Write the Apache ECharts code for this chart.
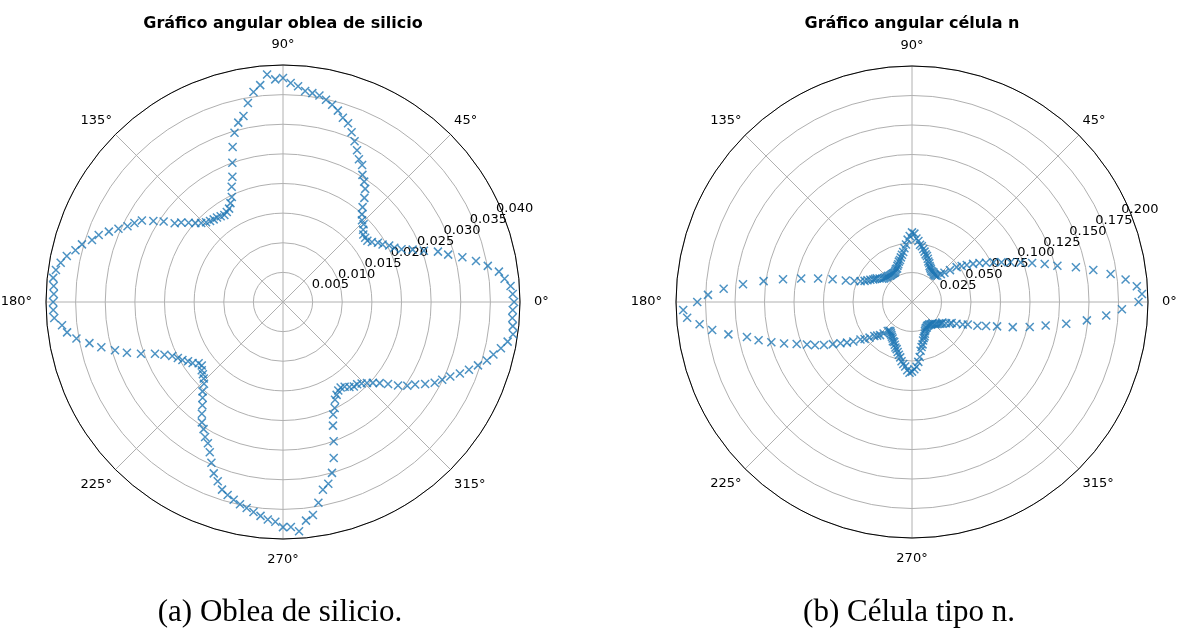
<!DOCTYPE html>
<html>
<head>
<meta charset="utf-8">
<script src="https://cdn.jsdelivr.net/npm/echarts@6/dist/echarts.min.js"></script>
<style>
  html, body { margin: 0; padding: 0; background: #fff; }
  #main { width: 1180px; height: 630px; }
</style>
</head>
<body>
<div id="main"></div>
<script>
// measurement angles (degrees), same for both samples
const angles = [0, 2, 4, 6, 8, 10, 12, 14, 16, 18, 20, 22, 24, 26, 28, 30, 32, 34, 36, 38,
  40, 42, 44, 46, 48, 50, 52, 54, 56, 58, 60, 62, 64, 66, 68, 70, 72, 74, 76, 78,
  80, 82, 84, 86, 88, 90, 92, 94, 96, 98, 100, 102, 104, 106, 108, 110, 112, 114, 116, 118,
  120, 122, 124, 126, 128, 130, 132, 134, 136, 138, 140, 142, 144, 146, 148, 150, 152, 154, 156, 158,
  160, 162, 164, 166, 168, 170, 172, 174, 176, 178, 180, 182, 184, 186, 188, 190, 192, 194, 196, 198,
  200, 202, 204, 206, 208, 210, 212, 214, 216, 218, 220, 222, 224, 226, 228, 230, 232, 234, 236, 238,
  240, 242, 244, 246, 248, 250, 252, 254, 256, 258, 260, 262, 264, 266, 268, 270, 272, 274, 276, 278,
  280, 282, 284, 286, 288, 290, 292, 294, 296, 298, 300, 302, 304, 306, 308, 310, 312, 314, 316, 318,
  320, 322, 324, 326, 328, 330, 332, 334, 336, 338, 340, 342, 344, 346, 348, 350, 352, 354, 356, 358];

// (a) oblea de silicio
const obleaValues = [0.0390, 0.0388, 0.0385, 0.0376, 0.0368, 0.0351, 0.0333, 0.0312, 0.0290, 0.0275,
  0.0253, 0.0236, 0.0219, 0.0209, 0.0203, 0.0194, 0.0189, 0.0181, 0.0176, 0.0176,
  0.0177, 0.0182, 0.0189, 0.0192, 0.0199, 0.0209, 0.0223, 0.0236, 0.0245, 0.0253,
  0.0267, 0.0273, 0.0285, 0.0297, 0.0309, 0.0321, 0.0327, 0.0336, 0.0343, 0.0349,
  0.0354, 0.0356, 0.0358, 0.0365, 0.0370, 0.0378, 0.0376, 0.0385, 0.0368, 0.0358,
  0.0341, 0.0321, 0.0312, 0.0297, 0.0275, 0.0250, 0.0228, 0.0213, 0.0197, 0.0189,
  0.0182, 0.0179, 0.0177, 0.0179, 0.0181, 0.0182, 0.0184, 0.0187, 0.0192, 0.0199,
  0.0208, 0.0218, 0.0226, 0.0243, 0.0258, 0.0275, 0.0284, 0.0292, 0.0304, 0.0317,
  0.0331, 0.0339, 0.0353, 0.0361, 0.0373, 0.0381, 0.0387, 0.0390, 0.0388, 0.0387,
  0.0388, 0.0388, 0.0387, 0.0375, 0.0368, 0.0354, 0.0334, 0.0316, 0.0295, 0.0277,
  0.0255, 0.0233, 0.0219, 0.0208, 0.0201, 0.0196, 0.0189, 0.0184, 0.0176, 0.0174,
  0.0179, 0.0182, 0.0186, 0.0192, 0.0203, 0.0211, 0.0221, 0.0233, 0.0245, 0.0253,
  0.0263, 0.0270, 0.0282, 0.0297, 0.0312, 0.0322, 0.0333, 0.0339, 0.0344, 0.0349,
  0.0353, 0.0358, 0.0363, 0.0368, 0.0371, 0.0380, 0.0380, 0.0388, 0.0371, 0.0363,
  0.0344, 0.0324, 0.0316, 0.0300, 0.0277, 0.0250, 0.0225, 0.0208, 0.0199, 0.0187,
  0.0181, 0.0176, 0.0174, 0.0177, 0.0182, 0.0186, 0.0187, 0.0191, 0.0197, 0.0204,
  0.0213, 0.0225, 0.0240, 0.0253, 0.0263, 0.0277, 0.0290, 0.0299, 0.0309, 0.0322,
  0.0334, 0.0346, 0.0358, 0.0366, 0.0376, 0.0385, 0.0392, 0.0390, 0.0388, 0.0388];

// (b) célula tipo n
const celulaValues = [0.192, 0.195, 0.191, 0.182, 0.170, 0.156, 0.142, 0.127, 0.117, 0.107,
  0.098, 0.090, 0.083, 0.077, 0.071, 0.066, 0.061, 0.056, 0.052, 0.048,
  0.042, 0.037, 0.034, 0.031, 0.030, 0.030, 0.030, 0.031, 0.031, 0.031,
  0.032, 0.033, 0.034, 0.036, 0.037, 0.039, 0.041, 0.042, 0.044, 0.046,
  0.048, 0.049, 0.052, 0.054, 0.058, 0.059, 0.056, 0.053, 0.049, 0.046,
  0.043, 0.041, 0.039, 0.037, 0.036, 0.034, 0.033, 0.031, 0.031, 0.030,
  0.029, 0.029, 0.029, 0.029, 0.029, 0.029, 0.030, 0.030, 0.030, 0.031,
  0.031, 0.032, 0.034, 0.036, 0.037, 0.038, 0.040, 0.042, 0.044, 0.047,
  0.052, 0.059, 0.070, 0.082, 0.096, 0.111, 0.127, 0.144, 0.160, 0.173,
  0.182, 0.194, 0.191, 0.181, 0.171, 0.158, 0.143, 0.134, 0.124, 0.114,
  0.104, 0.096, 0.090, 0.083, 0.076, 0.070, 0.065, 0.060, 0.054, 0.051,
  0.047, 0.043, 0.041, 0.039, 0.036, 0.032, 0.031, 0.031, 0.032, 0.033,
  0.034, 0.035, 0.037, 0.037, 0.039, 0.041, 0.042, 0.044, 0.046, 0.048,
  0.051, 0.053, 0.055, 0.058, 0.060, 0.059, 0.057, 0.055, 0.051, 0.047,
  0.042, 0.039, 0.037, 0.034, 0.032, 0.031, 0.029, 0.027, 0.026, 0.025,
  0.025, 0.024, 0.024, 0.024, 0.024, 0.025, 0.025, 0.025, 0.027, 0.028,
  0.029, 0.030, 0.031, 0.031, 0.034, 0.037, 0.038, 0.042, 0.047, 0.051,
  0.059, 0.066, 0.075, 0.088, 0.102, 0.115, 0.132, 0.149, 0.165, 0.178];

const obleaMax = 0.04, obleaStep = 0.005;
const celulaMax = 0.2, celulaStep = 0.025;

const blue = '#1f77b4';
const xMark = 'path://M0,0L10,10M0,10L10,0';
const sans = 'DejaVu Sans';

const chart = echarts.init(document.getElementById('main'));

// angle tick labels: padding nudges each one so all sit ~21px outside the circle
const lbl = { fontFamily: sans, fontSize: 13, color: '#000' };
function angleText(v) {
  if (v === 360) return '';
  if (v === 0) return '{e|0°}';
  if (v === 90) return '{n|90°}';
  if (v === 180) return '{w|180°}';
  if (v === 270) return '{s|270°}';
  if (v === 45 || v === 135) return '{up|' + v + '°}';
  return '{dn|' + v + '°}';
}

// polar with the grid, the angle labels and the data
function gridAngle() {
  return {
    type: 'value', min: 0, max: 360, interval: 45, startAngle: 0, clockwise: false,
    axisLine: { lineStyle: { color: '#000', width: 1 } },
    axisTick: { show: false },
    axisLabel: Object.assign({
      margin: 5, formatter: angleText,
      rich: {
        e: Object.assign({ padding: [0, 0, 0, 9] }, lbl),
        w: Object.assign({ padding: [0, 9, 0, 0] }, lbl),
        n: Object.assign({ padding: [0, 0, 9, 0] }, lbl),
        s: Object.assign({ padding: [9, 0, 0, 0] }, lbl),
        up: Object.assign({ padding: [0, 0, 4, 0] }, lbl),
        dn: Object.assign({ padding: [5, 0, 0, 0] }, lbl)
      }
    }, lbl),
    splitLine: { lineStyle: { color: '#b0b0b0', width: 1 } }
  };
}
function gridRadius(max, step) {
  return {
    type: 'value', min: 0, max: max, interval: step,
    axisLine: { show: false }, axisTick: { show: false }, axisLabel: { show: false },
    splitLine: { lineStyle: { color: '#b0b0b0', width: 1 } }
  };
}
// polar used only for the r tick labels (placed along 22.5°); one extra step past
// the top so the outermost label is not dropped by the min/max overlap check
function hiddenAngle(start) {
  return {
    type: 'value', min: 0, max: 360, interval: 45, startAngle: start, clockwise: false,
    axisLine: { show: false }, axisTick: { show: false }, axisLabel: { show: false },
    splitLine: { show: false }
  };
}
function labelRadius(max, step) {
  return {
    type: 'value', min: 0, max: max + step, interval: step,
    axisLine: { show: false }, axisTick: { show: false }, splitLine: { show: false },
    axisLabel: {
      color: '#000', fontFamily: sans, fontSize: 13, margin: 0,
      align: 'center', verticalAlign: 'middle', showMaxLabel: false, showMinLabel: false,
      formatter: v => (v === 0 || v > max + step / 2 ? '' : v.toFixed(3))
    }
  };
}
function points(vals) {
  return vals.map((r, i) => [r, angles[i]]);
}

const option = {
  animation: false,
  backgroundColor: '#fff',
  title: [
    { text: 'Gráfico angular oblea de silicio', left: 278, top: 11, textAlign: 'center',
      textStyle: { fontFamily: sans, fontWeight: 'bold', fontSize: 16, color: '#000' } },
    { text: 'Gráfico angular célula n', left: 907, top: 11, textAlign: 'center',
      textStyle: { fontFamily: sans, fontWeight: 'bold', fontSize: 16, color: '#000' } },
    { text: '(a) Oblea de silicio.', left: 275, top: 592, textAlign: 'center',
      textStyle: { fontFamily: 'Liberation Serif', fontWeight: 'normal', fontSize: 31, color: '#000' } },
    { text: '(b) Célula tipo n.', left: 904, top: 592, textAlign: 'center',
      textStyle: { fontFamily: 'Liberation Serif', fontWeight: 'normal', fontSize: 31, color: '#000' } }
  ],
  polar: [
    { center: [283, 302], radius: 237 },
    { center: [912, 302], radius: 236 },
    { center: [304, 296], radius: 228 * 9 / 8 },
    { center: [932, 296], radius: 225 * 9 / 8 }
  ],
  angleAxis: [
    Object.assign(gridAngle(), { polarIndex: 0 }),
    Object.assign(gridAngle(), { polarIndex: 1 }),
    Object.assign(hiddenAngle(22.5), { polarIndex: 2 }),
    Object.assign(hiddenAngle(22.5), { polarIndex: 3 })
  ],
  radiusAxis: [
    Object.assign(gridRadius(obleaMax, obleaStep), { polarIndex: 0 }),
    Object.assign(gridRadius(celulaMax, celulaStep), { polarIndex: 1 }),
    Object.assign(labelRadius(obleaMax, obleaStep), { polarIndex: 2 }),
    Object.assign(labelRadius(celulaMax, celulaStep), { polarIndex: 3 })
  ],
  series: [
    { type: 'scatter', coordinateSystem: 'polar', polarIndex: 0, data: points(obleaValues),
      symbol: xMark, symbolSize: 8, z: 5,
      itemStyle: { color: 'none', borderColor: blue, borderWidth: 1.5 } },
    { type: 'scatter', coordinateSystem: 'polar', polarIndex: 1, data: points(celulaValues),
      symbol: xMark, symbolSize: 8, z: 5,
      itemStyle: { color: 'none', borderColor: blue, borderWidth: 1.5 } }
  ]
};

chart.setOption(option);
</script>
</body>
</html>
